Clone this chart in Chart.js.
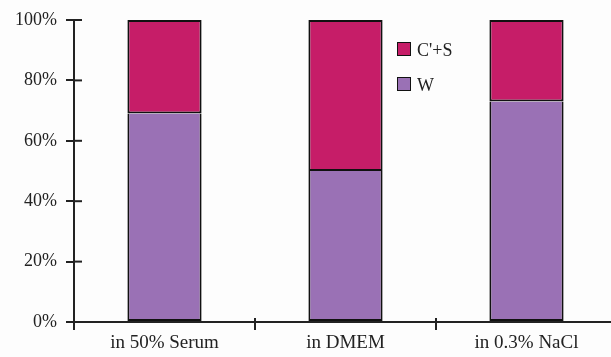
<!DOCTYPE html>
<html>
<head>
<meta charset="utf-8">
<script src="https://cdn.jsdelivr.net/npm/chart.js@4.4.1/dist/chart.umd.min.js"></script>
<style>
  html,body{margin:0;padding:0;background:#fdfdfd;overflow:hidden;}
  .wrap{position:relative;width:611px;height:357px;overflow:hidden;}
  .legend{position:absolute;left:397px;top:40px;font-family:"Liberation Serif",serif;font-size:18px;color:#222;}
  .legend div{height:35px;display:flex;align-items:flex-start;}
  .legend span.box{display:inline-block;width:12px;height:12px;border:1.5px solid #111;margin-right:6px;margin-top:2px;}
</style>
</head>
<body>
<div class="wrap">
  <canvas id="myChart" width="617" height="357"></canvas>
  <div class="legend" id="legend"></div>
</div>
<script>
let categories=["in 50% Serum","in DMEM","in 0.3% NaCl"];
let w_values=[69,50,73];
let cs_values=[31,50,27];
let y_ticks=[0,20,40,60,80,100];

let legend=document.getElementById("legend");
let series=[
    {label:"C'+S",color:"#c61d68"},
    {label:"W",color:"#9a71b5"}
];
series.map((item)=>{
    legend.innerHTML+=`<div><span class="box" style="background:${item.color}"></span>${item.label}</div>`;
});

// short tick marks crossing the axes
const crossTicks={
    id:"crossTicks",
    afterDraw(chart){
        let ctx=chart.ctx;
        let y=chart.scales.y;
        let x=chart.scales.x;
        ctx.save();
        ctx.strokeStyle="#222";
        ctx.lineWidth=2;
        y_ticks.map((v)=>{
            let py=y.getPixelForValue(v);
            ctx.beginPath();
            ctx.moveTo(chart.chartArea.left,py);
            ctx.lineTo(chart.chartArea.left+8,py);
            ctx.stroke();
        });
        for(let i=1;i<categories.length;i++){
            let px=(x.getPixelForValue(i-1)+x.getPixelForValue(i))/2;
            ctx.beginPath();
            ctx.moveTo(px,chart.chartArea.bottom-4);
            ctx.lineTo(px,chart.chartArea.bottom);
            ctx.stroke();
        }
        ctx.restore();
    }
};

var ctx=document.getElementById("myChart").getContext("2d");
new Chart(ctx,{
    type:"bar",
    data:{
        labels:categories,
        datasets:[
            {label:"W",data:w_values,backgroundColor:"#9a71b5",borderColor:"#111",borderWidth:2,borderSkipped:"top",barPercentage:0.41,categoryPercentage:1},
            {label:"C'+S",data:cs_values,backgroundColor:"#c61d68",borderColor:"#111",borderWidth:2,borderSkipped:false,barPercentage:0.41,categoryPercentage:1}
        ]
    },
    options:{
        responsive:false,
        animation:false,
        layout:{padding:{top:20,right:0,left:0,bottom:0}},
        plugins:{legend:{display:false},tooltip:{enabled:false}},
        scales:{
            x:{
                stacked:true,
                grid:{drawOnChartArea:false,drawTicks:true,tickLength:8,color:"#222",lineWidth:2},
                border:{display:true,color:"#222",width:2},
                ticks:{font:{family:"Liberation Serif",size:19},color:"#222",padding:2,maxRotation:0},
                afterFit(scale){scale.height=35;}
            },
            y:{
                stacked:true,
                min:0,max:100,
                grid:{drawOnChartArea:false,drawTicks:true,tickLength:8,color:"#222",lineWidth:2},
                border:{display:true,color:"#222",width:2},
                ticks:{stepSize:20,font:{family:"Liberation Serif",size:18},color:"#222",padding:9,callback:(v)=>v+"%"},
                afterFit(scale){scale.width=74;}
            }
        }
    },
    plugins:[crossTicks]
});
</script>
</body>
</html>
